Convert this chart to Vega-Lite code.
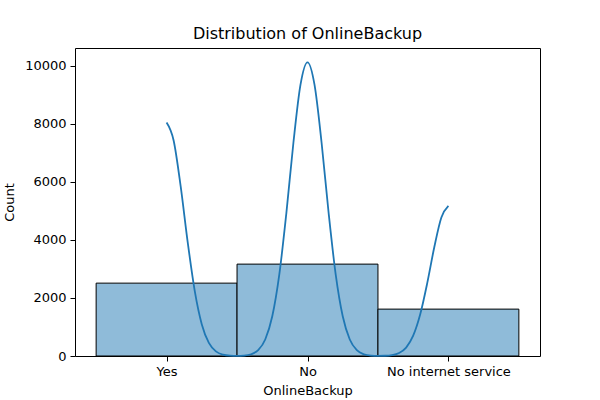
{
  "$schema": "https://vega.github.io/schema/vega-lite/v6.json",
  "width": 465,
  "height": 308,
  "autosize": {"type": "none"},
  "padding": {"left": 75, "top": 48, "right": 60, "bottom": 44},
  "background": "white",
  "config": {
    "font": "DejaVu Sans",
    "view": {"stroke": "black", "strokeWidth": 1},
    "axis": {"grid": false, "domain": false, "tickColor": "black", "tickSize": 5, "labelColor": "black", "titleColor": "black", "labelFontSize": 13, "titleFontSize": 13, "titleFontWeight": "normal", "labelPadding": 4}
  },
  "title": {"text": "Distribution of OnlineBackup", "fontSize": 16, "fontWeight": "normal", "color": "black", "offset": 6},
  "layer": [
    {
      "data": {"values": [
        {"OnlineBackup": "Yes", "code": 0, "Count": 2510},
        {"OnlineBackup": "No", "code": 1, "Count": 3165},
        {"OnlineBackup": "No internet service", "code": 2, "Count": 1615}
      ]},
      "transform": [
        {"calculate": "datum.code - 0.5", "as": "x0"},
        {"calculate": "datum.code + 0.5", "as": "x1"}
      ],
      "mark": {"type": "rect", "fill": "#8fbbd9", "stroke": "black", "strokeWidth": 1},
      "encoding": {
        "x": {"field": "x0", "type": "quantitative", "scale": {"domain": [-0.65, 2.65], "nice": false, "zero": false},
          "axis": {"title": "OnlineBackup", "titlePadding": 6, "values": [0, 1, 2], "labelExpr": "datum.value == 0 ? 'Yes' : datum.value == 1 ? 'No' : 'No internet service'"}},
        "x2": {"field": "x1"},
        "y": {"field": "Count", "type": "quantitative", "scale": {"domain": [0, 10610], "nice": false},
          "axis": {"title": "Count", "titlePadding": 8, "values": [0, 2000, 4000, 6000, 8000, 10000], "format": "d"}},
        "y2": {"datum": 0}
      }
    },
    {
      "data": {"values": [
        {"x": 0.00, "k": 8043}, {"x": 0.05, "k": 7424}, {"x": 0.10, "k": 5840}, {"x": 0.15, "k": 3915},
        {"x": 0.20, "k": 2236}, {"x": 0.25, "k": 1088}, {"x": 0.30, "k": 451}, {"x": 0.35, "k": 160},
        {"x": 0.40, "k": 48}, {"x": 0.45, "k": 13}, {"x": 0.50, "k": 6}, {"x": 0.55, "k": 16},
        {"x": 0.60, "k": 61}, {"x": 0.65, "k": 201}, {"x": 0.70, "k": 568}, {"x": 0.75, "k": 1369},
        {"x": 0.80, "k": 2813}, {"x": 0.85, "k": 4925}, {"x": 0.90, "k": 7346}, {"x": 0.95, "k": 9339},
        {"x": 1.00, "k": 10117}, {"x": 1.05, "k": 9339}, {"x": 1.10, "k": 7346}, {"x": 1.15, "k": 4925},
        {"x": 1.20, "k": 2813}, {"x": 1.25, "k": 1369}, {"x": 1.30, "k": 568}, {"x": 1.35, "k": 201},
        {"x": 1.40, "k": 61}, {"x": 1.45, "k": 16}, {"x": 1.50, "k": 5}, {"x": 1.55, "k": 9},
        {"x": 1.60, "k": 31}, {"x": 1.65, "k": 103}, {"x": 1.70, "k": 290}, {"x": 1.75, "k": 700},
        {"x": 1.80, "k": 1437}, {"x": 1.85, "k": 2517}, {"x": 1.90, "k": 3754}, {"x": 1.95, "k": 4772},
        {"x": 2.00, "k": 5170}
      ]},
      "mark": {"type": "line", "color": "#1f77b4", "strokeWidth": 1.8, "interpolate": "monotone"},
      "encoding": {
        "x": {"field": "x", "type": "quantitative"},
        "y": {"field": "k", "type": "quantitative"}
      }
    }
  ]
}
